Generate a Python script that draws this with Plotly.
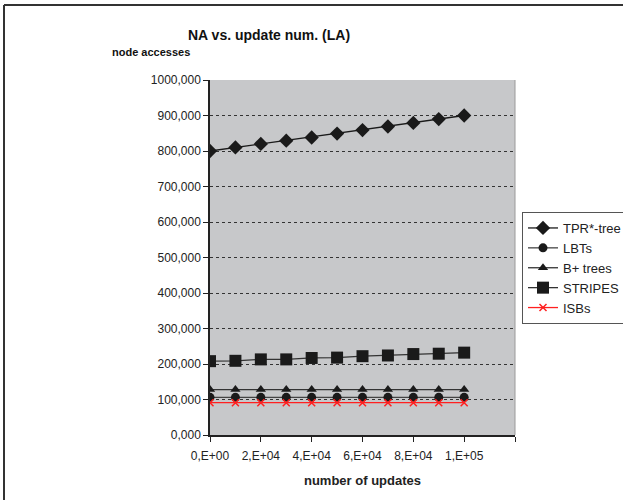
import plotly.graph_objects as go

updates = [0, 10000, 20000, 30000, 40000, 50000, 60000, 70000, 80000, 90000, 100000]
tpr = [800000, 810000, 820000, 829000, 838000, 849000, 859000, 869000, 879000, 890000, 900000]
lbts = [106000] * 11
bplus = [128000] * 11
stripes = [208000, 209000, 213000, 213000, 217000, 218000, 222000, 224000, 228000, 229000, 232000]
isbs = [91000] * 11

x_tickvals = [0, 20000, 40000, 60000, 80000, 100000, 120000]
x_ticktext = ["0,E+00", "2,E+04", "4,E+04", "6,E+04", "8,E+04", "1,E+05", ""]
y_tickvals = [0, 100000, 200000, 300000, 400000, 500000, 600000, 700000, 800000, 900000, 1000000]
y_ticktext = ["0,000", "100,000", "200,000", "300,000", "400,000", "500,000",
              "600,000", "700,000", "800,000", "900,000", "1000,000"]

W, H = 623, 500
ML, MR, MT, MB = 210, 108, 80, 65
pw, ph = W - ML - MR, H - MT - MB


def px_x(v):
    return (v - ML) / pw


def px_y(v):
    return (H - MB - v) / ph


fig = go.Figure()
series = [
    ("TPR*-tree", tpr, "diamond", 11, "#1a1a1a", "#1a1a1a"),
    ("LBTs", lbts, "circle", 9, "#1a1a1a", "#444444"),
    ("B+ trees", bplus, "triangle-up", 9, "#1a1a1a", "#333333"),
    ("STRIPES", stripes, "square", 12, "#1a1a1a", "#333333"),
    ("ISBs", isbs, "x-thin", 7, "#ff2020", "#ff2020"),
]
for name, vals, sym, size, mcol, lcol in series:
    fig.add_trace(go.Scatter(
        x=updates, y=vals, name=name, mode="lines+markers",
        line=dict(color=lcol, width=1.3),
        marker=dict(symbol=sym, size=size, color=mcol,
                    line=dict(color=mcol, width=1.5 if sym == "x-thin" else 0)),
    ))

fig.update_layout(
    width=W, height=H,
    margin=dict(l=ML, r=MR, t=MT, b=MB, autoexpand=False),
    paper_bgcolor="white", plot_bgcolor="#c7c8ca",
    font=dict(family="Liberation Sans, Arial", size=12, color="#222222"),
    showlegend=True,
    legend=dict(x=px_x(522), y=px_y(212), xanchor="left", yanchor="top",
                bordercolor="#555555", borderwidth=1, bgcolor="white",
                font=dict(size=13, color="#222222"), tracegroupgap=0,
                itemwidth=30),
    xaxis=dict(range=[0, 120000], tickvals=x_tickvals, ticktext=x_ticktext,
               showgrid=False, zeroline=False, showline=True, linecolor="#222222",
               linewidth=1.5, ticks="outside", ticklen=5, tickcolor="#222222",
               tickfont=dict(size=12), ticklabelstandoff=4,
               title=dict(text="<b>number of updates</b>", font=dict(size=13), standoff=14)),
    yaxis=dict(range=[0, 1000000], tickvals=y_tickvals, ticktext=y_ticktext,
               showgrid=True, gridcolor="#333333", griddash="dot", gridwidth=1,
               zeroline=False, showline=True, linecolor="#222222", linewidth=1.5,
               ticks="outside", ticklen=5, tickcolor="#222222", tickfont=dict(size=12)),
    annotations=[
        dict(text="<b>NA vs. update num. (LA)</b>", x=px_x(269), y=px_y(35),
             xref="paper", yref="paper", xanchor="center", yanchor="middle",
             showarrow=False, font=dict(size=14, color="#111111")),
        dict(text="<b>node accesses</b>", x=px_x(110), y=px_y(52),
             xref="paper", yref="paper", xanchor="left", yanchor="middle",
             showarrow=False, font=dict(size=11, color="#111111")),
    ],
)

fig.add_shape(type="line", xref="paper", yref="paper",
              x0=px_x(4), x1=px_x(623), y0=px_y(5), y1=px_y(5),
              line=dict(color="#333333", width=2))
fig.add_shape(type="line", xref="paper", yref="paper",
              x0=px_x(4), x1=px_x(4), y0=px_y(5), y1=px_y(500),
              line=dict(color="#333333", width=2))
fig.add_shape(type="line", xref="paper", yref="paper", x0=1, x1=1, y0=0, y1=1,
              line=dict(color="#9a9a9a", width=1))

fig.write_html("out.html", config={"displayModeBar": False},
               post_script="document.body.style.margin='0';document.body.style.padding='0';")
